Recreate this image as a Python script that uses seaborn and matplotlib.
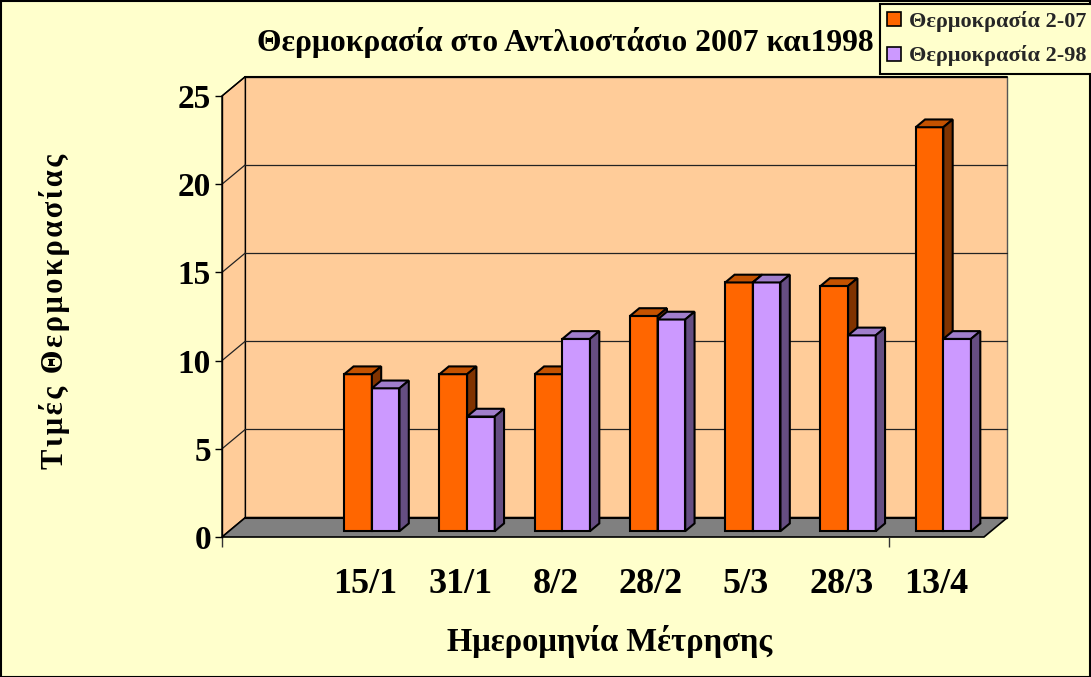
import numpy as np
import pandas as pd
import matplotlib
matplotlib.use("Agg")
import matplotlib.pyplot as plt
import seaborn as sns
from matplotlib.patches import Polygon, Rectangle, Patch
from matplotlib.transforms import Affine2D, IdentityTransform

# Measurement dates (the first slot is left empty on the category axis)
dates = ["", "15/1", "31/1", "8/2", "28/2", "5/3", "28/3", "13/4"]
temp_2007 = [8.9, 8.9, 8.9, 12.2, 14.1, 13.9, 22.9]
temp_1998 = [8.1, 6.5, 10.9, 12.0, 14.1, 11.1, 10.9]
series_names = ["Θερμοκρασία 2-07", "Θερμοκρασία 2-98"]
y_ticks = [0, 5, 10, 15, 20, 25]

title_text = "Θερμοκρασία στο Αντλιοστάσιο 2007 και1998"
x_label = "Ημερομηνία Μέτρησης"
y_label = "Τιμές Θερμοκρασίας"

df = pd.DataFrame({
    "date": dates[1:] * 2,
    "value": temp_2007 + temp_1998,
    "series": [series_names[0]] * len(temp_2007) + [series_names[1]] * len(temp_1998),
})

sns.set_theme(style="white")
plt.rcParams["font.family"] = ["Liberation Serif", "DejaVu Serif"]
plt.rcParams["font.weight"] = "bold"

BG = "#FFFFCC"
WALL = "#FFCC99"
FLOOR = "#808080"
FRONT = ["#FF6600", "#CC99FF"]
TOP = ["#C45200", "#A07ECC"]
SIDE = ["#803300", "#654E82"]

W, H = 1091, 677
fig = plt.figure(figsize=(W / 100, H / 100), dpi=100, facecolor=BG)

# front plane of the plot box, in pixels
left, right, y0, y25 = 222, 984, 537, 96
ax = fig.add_axes([left / W, 1 - y0 / H, (right - left) / W, (y0 - y25) / H])
ax.patch.set_visible(False)

sns.barplot(data=df, x="date", y="value", hue="series", order=dates,
            hue_order=series_names, palette=FRONT, saturation=1, width=0.58,
            edgecolor="black", linewidth=1.5, errorbar=None,
            legend=False, ax=ax)
bars = sorted([p for p in ax.patches if hasattr(p, "get_x")], key=lambda p: p.get_x())

ax.set_xlim(-0.5, len(dates) - 0.5)
ax.set_ylim(0, 25)
ax.set_yticks(y_ticks)

# depth vector of the 3-D box (display pixels)
D = np.array([23.3, 19.4])
bar_front = 0.3 * D
bar_depth = 0.4 * D

td = ax.transData
xa, xb = -0.5, len(dates) - 0.5

def P(x, v, off=(0, 0)):
    return td.transform((x, v)) + np.asarray(off)

ident = IdentityTransform()

def add_poly(pts, fc, ec="black", lw=1.0, z=0.5):
    poly = Polygon(pts, closed=True, facecolor=fc, edgecolor=ec, linewidth=lw,
                   transform=ident, zorder=z, clip_on=False)
    ax.add_artist(poly)

def add_line(p, q, color="#222222", lw=0.9, z=0.35):
    ax.add_artist(plt.Line2D(*zip(p, q), color=color, lw=lw, transform=ident,
                             zorder=z, clip_on=False))

# back wall, side wall and floor
add_poly([P(xa, 0, D), P(xb, 0, D), P(xb, 25, D), P(xa, 25, D)], WALL,
         ec="#555555", lw=1.0, z=0.3)
add_poly([P(xa, 0), P(xa, 25), P(xa, 25, D), P(xa, 0, D)], WALL, lw=1.0, z=0.31)
add_poly([P(xa, 0), P(xb, 0), P(xb, 0, D), P(xa, 0, D)], FLOOR, lw=1.2, z=0.32)

for v in y_ticks[1:-1]:
    add_line(P(xa, v, D), P(xb, v, D))
    add_line(P(xa, v), P(xa, v, D))
add_line(P(xa, 25, D), P(xb, 25, D), color="black", lw=1.5, z=0.36)
add_line(P(xa, 25), P(xa, 25, D), color="black", lw=1.0, z=0.36)
add_line(P(xa, 0, D), P(xb, 0, D), color="black", lw=1.5, z=0.36)

# give the seaborn bars depth: shift the fronts and add top and side faces
for i, bar in enumerate(bars):
    h = bar.get_height()
    if not np.isfinite(h) or h <= 0:
        continue
    k = 0 if bar.get_facecolor()[2] < 0.5 else 1
    z = 2 + i * 0.01
    bar.set_transform(td + Affine2D().translate(*bar_front))
    bar.set_zorder(z)
    bar.set_clip_on(False)
    x0, x1 = bar.get_x(), bar.get_x() + bar.get_width()
    top = [P(x0, h, bar_front), P(x1, h, bar_front),
           P(x1, h, bar_front + bar_depth), P(x0, h, bar_front + bar_depth)]
    side = [P(x1, 0, bar_front), P(x1, h, bar_front),
            P(x1, h, bar_front + bar_depth), P(x1, 0, bar_front + bar_depth)]
    add_poly(top, TOP[k], lw=1.5, z=z + 0.001)
    add_poly(side, SIDE[k], lw=1.5, z=z + 0.002)

# axes: left spine and floor edge only
for s in ["top", "right", "bottom"]:
    ax.spines[s].set_visible(False)
ax.spines["left"].set_color("black")
ax.spines["left"].set_linewidth(1.0)
ax.tick_params(axis="y", which="major", length=5, width=1, color="black",
               labelsize=24, pad=3, left=True)
ax.tick_params(axis="x", which="major", length=0, labelsize=26, pad=22)
ax.set_xticks(range(len(dates)))
ax.set_xticks([-0.5, 6.5], minor=True)
ax.tick_params(axis="x", which="minor", length=7, width=1, color="#333333", bottom=True)
for lab in ax.get_xticklabels() + ax.get_yticklabels():
    lab.set_fontweight("bold")
    lab.set_color("black")

ax.set_xlabel(x_label, fontsize=23.5, fontweight="bold", color="black")
ax.xaxis.set_label_coords((610 - left) / (right - left), -(625 - y0) / (y0 - y25))
gap = "\u200a"
spaced_ylabel = (gap + " " + gap).join(gap.join(w) for w in y_label.split(" "))
ax.set_ylabel(spaced_ylabel, fontsize=22, fontweight="bold", color="black")
ax.yaxis.set_label_coords((70 - left) / (right - left), (y0 - 311) / (y0 - y25))

fig.text(565 / W, 1 - 43 / H, title_text, ha="center", va="center",
         fontsize=22.8, fontweight="bold", color="black")

handles = [Patch(facecolor=c, edgecolor="black", linewidth=1.2) for c in FRONT]
leg = fig.legend(handles, series_names, loc="upper right",
                 bbox_to_anchor=(1 + 3 / W, 1 - 4 / H), frameon=True, fancybox=False,
                 edgecolor="black", facecolor=BG, framealpha=1,
                 prop={"size": 16, "weight": "bold"}, handlelength=0.6,
                 handleheight=0.6, handletextpad=0.4, borderpad=0.32,
                 labelspacing=0.6, borderaxespad=0)
leg.get_frame().set_linewidth(1.5)

fig.add_artist(Rectangle((0.5 / W, 0.5 / H), 1 - 1.5 / W, 1 - 1.5 / H,
                         transform=fig.transFigure, fill=False,
                         edgecolor="black", linewidth=1.5))

fig.savefig("out.png", dpi=100, facecolor=BG)
